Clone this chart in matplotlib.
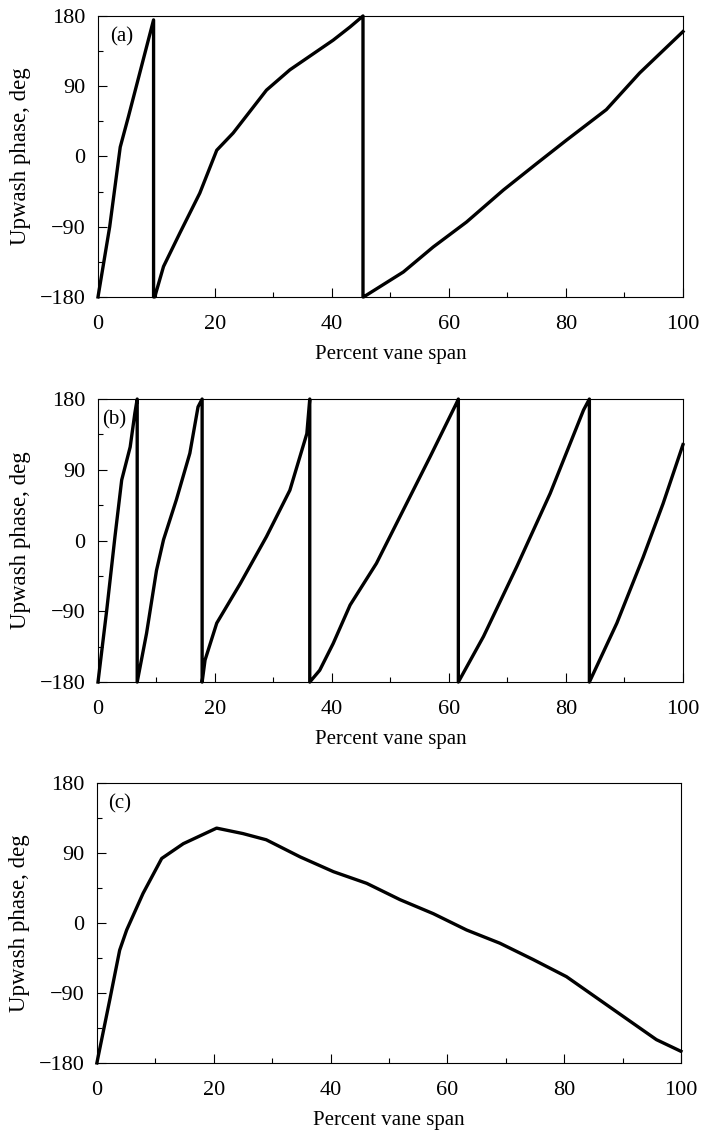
import numpy as np
import matplotlib.pyplot as plt
from matplotlib.ticker import MultipleLocator

plt.rcParams['font.family'] = ['Liberation Serif', 'DejaVu Serif']

# (a) phase vs span, wraps at +-180
span_a = [0, 2.0, 3.8, 5.2, 9.5, 9.5, 9.7, 11.2, 14.0, 17.4, 20.3, 23.1, 28.8, 32.8, 40.2, 43.1, 45.3,
          45.3, 45.4, 52.2, 57.3, 63.0, 69.3, 75.0, 80.1, 86.9, 92.6, 100]
phase_a = [-180, -90, 12, 51, 175, -180, -180, -141, -98, -47, 8, 30, 85, 111, 149, 166, 180,
           -180, -180, -148, -116, -84, -43, -9, 21, 60, 107, 160]

# (b)
span_b = [0, 1.5, 2.9, 4.05, 5.5, 6.3, 6.7, 6.7,
          8.3, 10.0, 11.2, 13.4, 15.7, 17.1, 17.8, 17.8,
          18.3, 20.3, 24.3, 28.8, 32.8, 35.7, 36.2, 36.2,
          37.9, 40.2, 43.1, 47.6, 52.2, 56.8, 61.3, 61.6, 61.6,
          65.9, 71.6, 77.3, 83.0, 84.0, 84.0,
          88.7, 93.2, 96.6, 100]
phase_b = [-180, -88, 5, 77, 119, 162, 180, -180,
           -118, -38, 1, 52, 111, 170, 180, -180,
           -152, -105, -55, 5, 64, 136, 180, -180,
           -165, -131, -82, -29, 39, 107, 175, 180, -180,
           -122, -33, 60, 166, 180, -180,
           -105, -21, 47, 122]

# (c)
span_c = [0, 2.2, 3.9, 5.1, 7.9, 11.1, 14.8, 20.5, 25.0, 29.0, 34.8, 40.5, 46.2, 51.9, 57.6,
          63.3, 69.0, 74.7, 80.4, 86.1, 91.8, 95.8, 100]
phase_c = [-180, -99, -35, -9, 38, 83, 102, 122, 115, 107, 85, 66, 51, 30, 12,
           -9, -26, -47, -69, -99, -129, -150, -165]

panels = [("(a)", 0.02, span_a, phase_a), ("(b)", 0.007, span_b, phase_b), ("(c)", 0.02, span_c, phase_c)]
boxes = [[0.1396, 0.7379, 0.8333, 0.2480],
         [0.1396, 0.3980, 0.8333, 0.2498],
         [0.1380, 0.0618, 0.8320, 0.2471]]

fig = plt.figure(figsize=(7.02, 11.33), dpi=100)

for (tag, tx, xs, ys), box in zip(panels, boxes):
    ax = fig.add_axes(box)
    ax.plot(xs, ys, color='black', lw=2.4, clip_on=False)
    ax.set_xlim(0, 100)
    ax.set_ylim(-180, 180)
    ax.xaxis.set_major_locator(MultipleLocator(20))
    ax.xaxis.set_minor_locator(MultipleLocator(10))
    ax.yaxis.set_major_locator(MultipleLocator(90))
    ax.yaxis.set_minor_locator(MultipleLocator(45))
    ax.tick_params(which='both', direction='in', labelsize=16, width=0.8)
    ax.tick_params(which='major', length=6.5)
    ax.tick_params(axis='x', which='major', pad=13)
    ax.tick_params(axis='y', which='major', pad=9)
    ax.tick_params(which='minor', length=3.5)
    for s in ax.spines.values():
        s.set_linewidth(0.8)
    ax.set_xlabel('Percent vane span', fontsize=15, labelpad=8)
    ax.set_ylabel('Upwash phase, deg', fontsize=16.5, labelpad=6)
    ax.text(tx, 0.925, tag, transform=ax.transAxes, fontsize=15, va='center', ha='left')

fig.savefig('out.png', dpi=100)
